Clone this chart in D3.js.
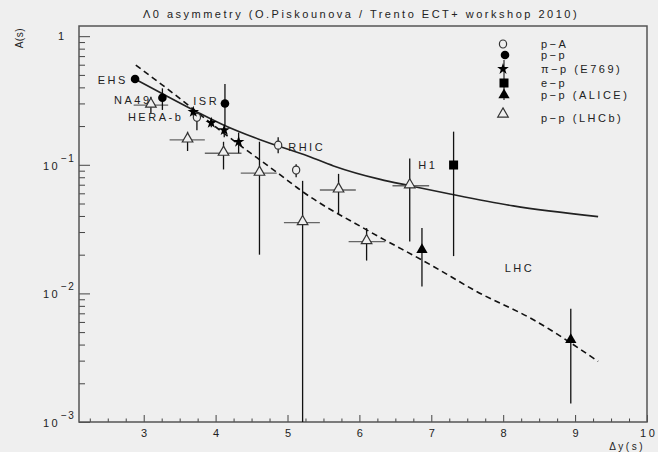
<!doctype html>
<html>
  <head>
    <style>
      html, body { margin: 0; padding: 0; background: #efefef; }
      svg { display: block; font-family: "Liberation Sans", Arial, sans-serif; }
      .lbl { font-size: 11px; letter-spacing: 2.5px; fill: #222; }
    </style>
  </head>
  <body>
    <div id="chart"></div>
    <script src="https://d3js.org/d3.v7.min.js"></script>
    <script>
      // data: [x, y, ylow, yhigh]
      var pA = [[3.74, 0.234, 0.186, 0.258], [4.87, 0.142, 0.123, 0.164], [5.12, 0.091, 0.080, 0.101]];
      var pp = [[2.88, 0.464, null, null], [3.26, 0.332, 0.267, 0.393], [4.13, 0.300, 0.203, 0.424]];
      var piP = [[3.69, 0.258, 0.240, 0.275], [3.94, 0.212, 0.196, 0.225], [4.12, 0.186, 0.164, 0.198], [4.32, 0.151, 0.123, 0.178]];
      var ep = [[7.31, 0.0996, 0.0195, 0.181]];
      var alice = [[6.87, 0.0218, 0.0113, 0.0322], [8.94, 0.00436, 0.00139, 0.0076]];
      // LHCb: [x, y, xlow, xhigh, ylow, yhigh]
      var lhcb = [
        [3.10, 0.291, 2.86, 3.34, 0.251, 0.338],
        [3.61, 0.156, 3.36, 3.85, 0.128, 0.181],
        [4.11, 0.123, 3.85, 4.36, 0.092, 0.151],
        [4.61, 0.086, 4.35, 4.85, 0.020, 0.151],
        [5.21, 0.0355, 4.95, 5.45, 0.001, 0.075],
        [5.71, 0.0637, 5.45, 5.95, 0.0415, 0.085],
        [6.10, 0.0253, 5.85, 6.36, 0.0180, 0.0322],
        [6.70, 0.0687, 6.46, 6.97, 0.0253, 0.112]
      ];
      // model curves
      var fitSolid = [[2.88, 0.464], [3.3, 0.347], [3.74, 0.258], [4.11, 0.204], [4.6, 0.158], [5.3, 0.116],
                      [5.64, 0.098], [6.29, 0.077], [6.70, 0.0688], [7.26, 0.0593], [8.14, 0.0479], [9.32, 0.0395]];
      var fitDashed = [[2.89, 0.596], [3.32, 0.393], [4.15, 0.170], [4.90, 0.0834], [5.21, 0.0618], [6.10, 0.0312],
                       [7.03, 0.0162], [7.63, 0.01035], [8.42, 0.00624], [9.32, 0.00296]];
      var pointLabels = [["EHS", 2.78, 0.455, "end"], ["NA49", 3.11, 0.318, "end"], ["HERA-b", 3.55, 0.234, "end"],
                         ["ISR", 3.69, 0.314, "start"], ["RHIC", 5.01, 0.138, "start"], ["H1", 6.82, 0.0996, "start"],
                         ["LHC", 8.02, 0.0157, "start"]];
      var legendNames = ["p\u2212A", "p\u2212p", "\u03c0\u2212p (E769)", "e\u2212p", "p\u2212p (ALICE)", "p\u2212p (LHCb)"];
      var xMajor = [3, 4, 5, 6, 7, 8, 9, 10];
      var yMajor = [1e-3, 1e-2, 1e-1, 1];

      var W = 658, H = 452;
      var x = d3.scaleLinear().domain([2.1, 10]).range([79, 647]);
      var y = d3.scaleLog().domain([0.001, 1.2]).range([422, 26]);

      var svg = d3.select("#chart").append("svg").attr("width", W).attr("height", H);
      svg.append("rect").attr("width", W).attr("height", H).attr("fill", "#efefef");

      // title
      svg.append("text").attr("class", "lbl").attr("x", 361).attr("y", 18).attr("text-anchor", "middle")
        .text("\u039b0 asymmetry (O.Piskounova / Trento ECT+ workshop 2010)");

      // ticks
      var xMinor = d3.range(2.25, 10, 0.25).filter(function(v){ return Math.abs(v - Math.round(v)) > 0.01; });
      svg.append("g").attr("transform", "translate(0,422)")
        .call(d3.axisBottom(x).tickValues(xMinor).tickSize(-3.5).tickFormat(""))
        .call(function(g){ g.select(".domain").remove(); g.selectAll("line").attr("stroke", "#444"); });
      var xa = svg.append("g").attr("transform", "translate(0,422)")
        .call(d3.axisBottom(x).tickValues(xMajor).tickSize(-7).tickPadding(7).tickFormat(d3.format("d")));
      xa.select(".domain").remove();
      xa.selectAll("line").attr("stroke", "#444");
      xa.selectAll("text").attr("class", "lbl").attr("font-family", null).attr("font-size", null)
        .attr("dx", "1.2px");

      var yMinor = [];
      [1e-3, 1e-2, 1e-1].forEach(function(d){ for (var k = 2; k <= 9; k++) yMinor.push(d * k); });
      svg.append("g").attr("transform", "translate(79,0)")
        .call(d3.axisLeft(y).tickValues(yMinor).tickSize(-6).tickFormat(""))
        .call(function(g){ g.select(".domain").remove(); g.selectAll("line").attr("stroke", "#444"); });
      svg.append("g").attr("transform", "translate(79,0)")
        .call(d3.axisLeft(y).tickValues(yMajor).tickSize(-11).tickFormat(""))
        .call(function(g){ g.select(".domain").remove(); g.selectAll("line").attr("stroke", "#444"); });

      yMajor.forEach(function(v){
        var e = Math.round(Math.log10(v));
        if (e === 0) {
          svg.append("text").attr("class", "lbl").attr("x", 58).attr("y", y(v) + 4).text("1");
        } else {
          svg.append("text").attr("class", "lbl").attr("x", 43).attr("y", y(v) + 5).text("10");
          svg.append("text").attr("class", "lbl").attr("x", 61).attr("y", y(v) - 3)
            .style("font-size", "10px").style("letter-spacing", "1.5px").text("\u2212" + (-e));
        }
      });

      // frame
      svg.append("rect").attr("x", 79).attr("y", 26).attr("width", 568).attr("height", 396)
        .attr("fill", "none").attr("stroke", "#555").attr("stroke-width", 1.5);

      // axis titles
      svg.append("text").attr("transform", "translate(23,28) rotate(-90)").attr("text-anchor", "end")
        .style("font-size", "10px").style("letter-spacing", "0.5px").attr("fill", "#222").text("A(s)");
      svg.append("text").attr("class", "lbl").attr("x", 645).attr("y", 450).attr("text-anchor", "end")
        .style("font-size", "10px").text("\u0394y(s)");

      // curves
      var line = d3.line().x(function(d){ return x(d[0]); }).y(function(d){ return y(d[1]); }).curve(d3.curveMonotoneX);
      svg.append("path").datum(fitSolid).attr("d", line).attr("fill", "none").attr("stroke", "#222").attr("stroke-width", 1.6);
      svg.append("path").datum(fitDashed).attr("d", line).attr("fill", "none").attr("stroke", "#111")
        .attr("stroke-width", 1.6).attr("stroke-dasharray", "6,4");

      var plot = svg.append("g");
      function vbar(s, col) {
        s.forEach(function(d){
          if (d[2] == null) return;
          plot.append("line").attr("x1", x(d[0])).attr("x2", x(d[0])).attr("y1", y(d[2])).attr("y2", y(d[3]))
            .attr("stroke", col || "#111").attr("stroke-width", 1.3);
        });
      }

      // LHCb
      lhcb.forEach(function(d){
        plot.append("line").attr("x1", x(d[2])).attr("x2", x(d[3])).attr("y1", y(d[1])).attr("y2", y(d[1]))
          .attr("stroke", "#666").attr("stroke-width", 1.3);
        plot.append("line").attr("x1", x(d[0])).attr("x2", x(d[0])).attr("y1", y(d[4])).attr("y2", y(d[5]))
          .attr("stroke", "#111").attr("stroke-width", 1.3);
      });
      var triOpen = d3.symbol().type(d3.symbolTriangle).size(48);
      plot.selectAll(".lhcb").data(lhcb).join("path").attr("d", triOpen)
        .attr("transform", function(d){ return "translate(" + x(d[0]) + "," + (y(d[1]) - 1) + ")"; })
        .attr("fill", "#efefef").attr("stroke", "#333").attr("stroke-width", 1.2);

      vbar(pA); vbar(pp); vbar(piP); vbar(ep); vbar(alice);

      plot.selectAll(".pa").data(pA).join("ellipse")
        .attr("cx", function(d){ return x(d[0]); }).attr("cy", function(d){ return y(d[1]); })
        .attr("rx", 3.6).attr("ry", 4).attr("fill", "#efefef").attr("stroke", "#333").attr("stroke-width", 1.2);
      plot.selectAll(".pp").data(pp).join("circle")
        .attr("cx", function(d){ return x(d[0]); }).attr("cy", function(d){ return y(d[1]); })
        .attr("r", 4.3).attr("fill", "#000");
      plot.selectAll(".pip").data(piP).join("path").attr("d", d3.symbol().type(d3.symbolStar).size(42))
        .attr("transform", function(d){ return "translate(" + x(d[0]) + "," + y(d[1]) + ")"; }).attr("fill", "#000");
      plot.selectAll(".ep").data(ep).join("rect")
        .attr("x", function(d){ return x(d[0]) - 4.5; }).attr("y", function(d){ return y(d[1]) - 4.5; })
        .attr("width", 9).attr("height", 9).attr("fill", "#000");
      plot.selectAll(".al").data(alice).join("path").attr("d", d3.symbol().type(d3.symbolTriangle).size(55))
        .attr("transform", function(d){ return "translate(" + x(d[0]) + "," + y(d[1]) + ")"; }).attr("fill", "#000");

      // point labels
      pointLabels.forEach(function(l){
        svg.append("text").attr("class", "lbl").attr("x", x(l[1])).attr("y", y(l[2]) + 4)
          .attr("text-anchor", l[3]).text(l[0]);
      });

      // legend
      var legY = [44, 55, 69, 83, 95, 114];
      var lg = svg.append("g");
      lg.append("ellipse").attr("cx", 503).attr("cy", legY[0]).attr("rx", 3.6).attr("ry", 4)
        .attr("fill", "none").attr("stroke", "#333").attr("stroke-width", 1.2);
      lg.append("circle").attr("cx", 505).attr("cy", legY[1]).attr("r", 4.3).attr("fill", "#000");
      lg.append("path").attr("d", d3.symbol().type(d3.symbolStar).size(42)())
        .attr("transform", "translate(503," + legY[2] + ")").attr("fill", "#000");
      lg.append("rect").attr("x", 499.5).attr("y", legY[3] - 4.5).attr("width", 9).attr("height", 9).attr("fill", "#000");
      lg.append("path").attr("d", d3.symbol().type(d3.symbolTriangle).size(55)())
        .attr("transform", "translate(504," + legY[4] + ")").attr("fill", "#000");
      lg.append("line").attr("x1", 504).attr("x2", 504).attr("y1", 60).attr("y2", 100).attr("stroke", "#000").attr("stroke-width", 1);
      lg.append("path").attr("d", triOpen())
        .attr("transform", "translate(503," + legY[5] + ")").attr("fill", "#efefef").attr("stroke", "#333").attr("stroke-width", 1.2);
      legendNames.forEach(function(t, i){
        lg.append("text").attr("class", "lbl").attr("x", 541).attr("y", legY[i] + (i === 5 ? 8 : 4)).text(t);
      });
    </script>
  </body>
</html>
